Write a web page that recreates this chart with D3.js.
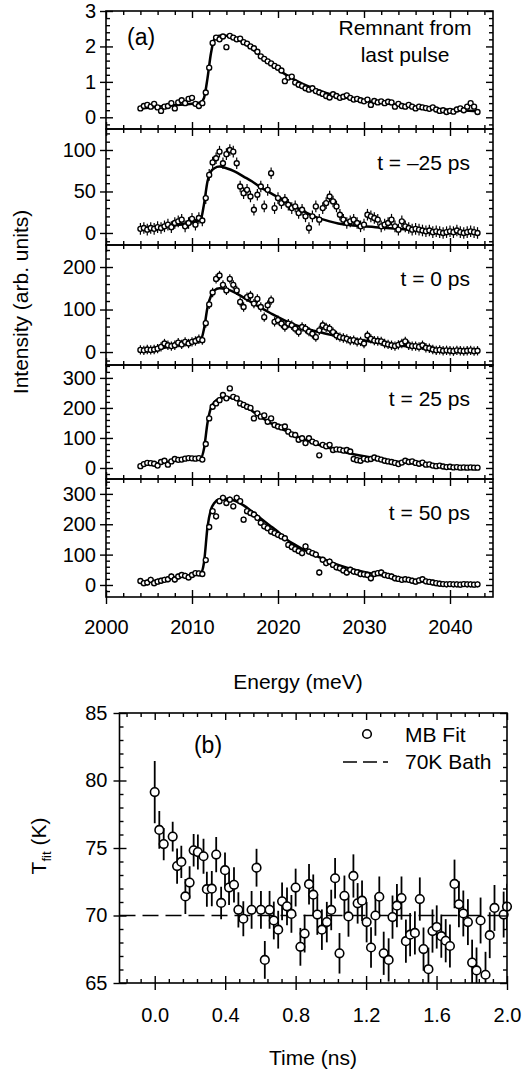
<!DOCTYPE html>
<html>
<head>
<meta charset="utf-8">
<script src="https://cdn.jsdelivr.net/npm/d3@7"></script>
<style>
  html, body { margin: 0; padding: 0; background: #fff; }
  svg { display: block; font-family: "Liberation Sans", Arial, Helvetica, sans-serif; }
</style>
</head>
<body>
<svg id="chart" width="527" height="1074"></svg>
<script>
// ---- panel (a): spectra, sampled every 0.4 meV from 2004.0 to 2043.2 ----
var energy = d3.range(99).map(function (k) { return +(2004 + 0.4 * k).toFixed(1); });

var remnant = [0.25, 0.32, 0.35, 0.30, 0.38, 0.28, 0.18, 0.30, 0.32, 0.40, 0.25, 0.42, 0.48, 0.40, 0.52, 0.55, 0.38, 0.32,
  0.40, 0.70, 1.40, 2.10, 2.25, 2.20, 2.28, 1.98, 2.30, 2.25, 2.20, 2.22,
  2.12, 2.08, 2.00, 1.95, 1.85, 1.72, 1.65, 1.58, 1.52, 1.45, 1.40, 1.32, 1.02, 1.12, 1.15, 0.98, 0.92, 0.88, 0.82, 0.78,
  0.82, 0.74, 0.70, 0.66, 0.60, 0.56, 0.65, 0.60, 0.55, 0.58, 0.62, 0.55, 0.50, 0.52, 0.48, 0.45, 0.50, 0.35, 0.46, 0.42,
  0.45, 0.40, 0.44, 0.42, 0.30, 0.38, 0.32, 0.30, 0.35, 0.30, 0.25, 0.30, 0.28, 0.26, 0.24, 0.28, 0.22, 0.18, 0.20, 0.15,
  0.18, 0.16, 0.22, 0.25, 0.20, 0.30, 0.40, 0.30, 0.15];
var tMinus25 = [5, 6, 4, 6, 5, 7, 6, 8, 10, 7, 12, 14, 16, 8, 12, 17, 10, 18,
  15, 42, 70, 85, 90, 98, 84, 95, 100, 98, 84, 56,
  48, 52, 44, 28, 46, 56, 32, 52, 72, 30, 42, 36, 40, 34, 30, 32, 24, 28, 20, 6,
  20, 32, 16, 30, 36, 44, 38, 32, 22, 16, 12, 14, 16, 12, 8, 10, 22, 20, 18, 16,
  8, 10, 12, 16, 8, 4, 14, 8, 6, 4, 5, 4, 3, 2, 3, 1, 2, 1, 0, 1, 2, 1, 3, 1, 0, 1, 2, 1, 0];
var t0 = [5, 4, 6, 5, 6, 8, 12, 20, 16, 14, 16, 22, 18, 24, 20, 24, 26, 30,
  28, 68, 112, 140, 172, 180, 158, 145, 172, 158, 145, 118,
  106, 129, 133, 114, 125, 106, 82, 110, 122, 71, 75, 67, 59, 67, 63, 55, 47, 59, 55, 48,
  43, 35, 51, 63, 58, 55, 47, 39, 35, 33, 31, 27, 28, 24, 25, 20, 39, 31, 27, 26,
  25, 20, 18, 16, 14, 17, 20, 25, 16, 14, 14, 12, 16, 10, 9, 6, 4, 5, 3, 4, 3, 2, 4, 3, 2, 3, 4, 2, 3];
var t25 = [6, 13, 17, 16, 14, 8, 20, 24, 11, 22, 30, 27, 28, 31, 33, 32, 31, 33,
  28, 80, 165, 204, 215, 226, 243, 232, 265, 237, 232, 215,
  210, 204, 200, 165, 182, 171, 175, 154, 165, 143, 138, 135, 138, 121, 112, 110, 94, 99, 83, 99,
  88, 83, 42, 77, 72, 77, 60, 62, 61, 58, 60, 55, 30, 26, 24, 31, 28, 30, 35, 31,
  28, 24, 22, 20, 17, 13, 18, 24, 20, 22, 17, 14, 18, 11, 12, 8, 6, 8, 5, 3, 4, 2, 3, 1, 2, 1, 2, 1, 1];
var t50 = [13, 6, 8, 17, 6, 11, 14, 17, 19, 28, 18, 28, 33, 30, 25, 33, 39, 38,
  36, 82, 191, 243, 226, 276, 287, 270, 281, 259, 287, 276,
  215, 243, 237, 232, 221, 205, 193, 187, 176, 171, 165, 160, 154, 132, 125, 118, 112, 105, 127, 110,
  105, 100, 41, 83, 72, 77, 66, 58, 55, 48, 41, 50, 44, 42, 36, 35, 33, 22, 36, 39,
  41, 33, 30, 28, 22, 20, 17, 19, 17, 14, 11, 15, 19, 12, 10, 8, 6, 4, 3, 2, 3, 2, 2, 1, 3, 2, 2, 1, 2];

// fitted curves (solid lines), on a coarser energy grid
var fitEnergy = [2004, 2006, 2008, 2010, 2011.0, 2011.4, 2011.8, 2012.2, 2012.6, 2013.2, 2014, 2015, 2016, 2017, 2018,
  2019, 2020, 2021, 2022, 2023, 2024, 2025, 2026, 2027, 2028, 2030, 2032, 2034, 2036, 2038, 2040, 2043.2];
var fitRemnant = [0.25, 0.30, 0.34, 0.38, 0.42, 0.55, 1.1, 1.8, 2.2, 2.3, 2.3, 2.22, 2.1, 1.93, 1.73,
  1.53, 1.35, 1.19, 1.05, 0.93, 0.83, 0.74, 0.66, 0.60, 0.55, 0.47, 0.41, 0.35, 0.30, 0.25, 0.21, 0.17];
var fitMinus25 = [4, 6, 9, 13, 16, 35, 62, 74, 78, 80, 78, 74, 68, 62, 55,
  49, 43, 37, 31, 26, 21, 17, 14, 11.5, 10, 8, 6.5, 5, 3.5, 2.5, 1.5, 1];
var fit0 = [4, 8, 15, 22, 27, 55, 105, 132, 145, 150, 148, 140, 128, 116, 104,
  93, 82, 72, 64, 57, 51, 46, 41, 37, 33, 27, 21, 16, 11, 7, 4, 2];
var fit25 = [10, 16, 24, 30, 32, 65, 150, 200, 220, 232, 236, 230, 212, 190, 170,
  152, 136, 122, 108, 96, 85, 75, 66, 58, 51, 39, 29, 21, 14, 8, 4, 2];
var fit50 = [10, 16, 25, 33, 38, 75, 190, 248, 270, 282, 284, 277, 262, 241, 219,
  197, 175, 150, 132, 116, 103, 89, 77, 66, 57, 43, 32, 22, 14, 8, 4, 2];

var panelLabels = ["", "t = \u201325 ps", "t = 0 ps", "t = 25 ps", "t = 50 ps"];
var panelErr = [0.07, 7, 11, 8, 10];
var panelYDomain = [[-0.33, 3], [-14.5, 125.3], [-30.5, 251.8], [-36.7, 343], [-39.6, 349]];
var panelYTicks = [[0, 1, 2, 3], [0, 50, 100], [0, 100, 200], [0, 100, 200, 300], [0, 100, 200, 300]];
var panelYMinor = [0.2, 10, 20, 20, 20];
var energyTicks = [2000, 2010, 2020, 2030, 2040];

// ---- panel (b): fitted temperature vs. time ----
var time = [0.000, 0.026, 0.051, 0.102, 0.127, 0.151, 0.174, 0.198, 0.221, 0.245,
  0.277, 0.296, 0.324, 0.349, 0.377, 0.399, 0.422, 0.450, 0.475, 0.503,
  0.550, 0.578, 0.603, 0.625, 0.652, 0.676, 0.701, 0.723, 0.751, 0.776,
  0.800, 0.827, 0.851, 0.876, 0.900, 0.923, 0.949, 0.977, 1.002, 1.024,
  1.049, 1.077, 1.100, 1.128, 1.152, 1.177, 1.203, 1.228, 1.253, 1.275,
  1.300, 1.328, 1.350, 1.375, 1.401, 1.426, 1.450, 1.477, 1.505, 1.526,
  1.554, 1.577, 1.601, 1.627, 1.652, 1.676, 1.702, 1.727, 1.752, 1.778,
  1.802, 1.827, 1.850, 1.878, 1.902, 1.929, 1.981, 2.000];
var tFit = [79.14, 76.34, 75.29, 75.85, 73.66, 73.97, 71.41, 72.44, 74.83, 74.70,
  74.39, 71.95, 71.99, 74.51, 70.93, 73.36, 72.07, 72.27, 70.42, 69.76,
  70.42, 73.54, 70.42, 66.71, 70.42, 69.63, 68.95, 71.05, 70.68, 70.12,
  72.07, 67.68, 68.66, 72.32, 71.54, 70.07, 68.95, 69.51, 70.41, 72.76,
  67.20, 71.46, 69.93, 72.93, 70.90, 71.10, 69.51, 67.63, 70.00, 71.39,
  67.20, 66.71, 69.88, 70.73, 71.29, 68.10, 68.58, 68.71, 71.22, 67.51,
  66.02, 68.85, 69.15, 68.47, 68.13, 67.74, 72.34, 70.83, 70.15, 69.51,
  66.51, 65.93, 69.63, 65.61, 68.54, 70.56, 70.07, 70.66];
var tFitErr = [2.3, 1.4, 1.2, 1.1, 1.3, 1.2, 1.3, 1.2, 1.2, 1.3,
  1.3, 1.3, 1.3, 1.3, 1.2, 1.3, 1.3, 1.3, 1.3, 1.3,
  1.4, 1.4, 1.4, 1.4, 1.4, 1.4, 1.4, 1.4, 1.4, 1.4,
  1.4, 1.4, 1.4, 1.5, 1.5, 1.5, 1.5, 1.5, 1.5, 1.5,
  1.5, 1.5, 1.5, 1.6, 1.5, 1.5, 1.5, 1.5, 1.5, 1.5,
  1.6, 1.6, 1.6, 1.6, 1.6, 1.6, 1.6, 1.6, 1.6, 1.6,
  1.6, 1.6, 1.6, 1.6, 1.6, 1.6, 1.8, 1.7, 1.7, 1.7,
  1.7, 1.7, 1.7, 1.7, 1.7, 1.7, 1.7, 1.7];
var bathTemp = 70;
var timeTicks = [0.0, 0.4, 0.8, 1.2, 1.6, 2.0];
var tempTicks = [65, 70, 75, 80, 85];

(function () {
  var svg = d3.select("#chart");
  var FONT = "Liberation Sans, Arial, Helvetica, sans-serif";
  var TICK_FS = 20, TITLE_FS = 21;

  function isMajor(v, majors) {
    return majors.some(function (m) { return Math.abs(m - v) < 1e-6; });
  }
  function minorValues(domain, step, majors) {
    var lo = Math.ceil(domain[0] / step - 1e-9) * step;
    return d3.range(lo, domain[1] + 1e-9, step)
      .map(function (v) { return +v.toFixed(6); })
      .filter(function (v) { return !isMajor(v, majors); });
  }
  // draw one axis and restyle it (no domain path; the frame is drawn separately)
  function axisAt(g, axis, tx, ty, withText) {
    var s = g.append("g").attr("transform", "translate(" + tx + "," + ty + ")").call(axis);
    s.attr("font-family", FONT).attr("font-size", TICK_FS);
    s.select(".domain").remove();
    s.selectAll("line").attr("stroke", "#000").attr("stroke-width", 1.4);
    if (!withText) s.selectAll("text").remove();
    else s.selectAll("text").attr("fill", "#000");
    return s;
  }

  // ================= panel (a) =================
  var left = 106, right = 493;
  var tops = [11, 129, 245, 365, 479], bottomA = 597;
  var x = d3.scaleLinear().domain([2000, 2045]).range([left, right]);
  var xMinor = minorValues([2000, 2045], 2, energyTicks);
  var series = [remnant, tMinus25, t0, t25, t50];
  var fits = [fitRemnant, fitMinus25, fit0, fit25, fit50];

  series.forEach(function (vals, i) {
    var top = tops[i], bot = i < 4 ? tops[i + 1] : bottomA;
    var y = d3.scaleLinear().domain(panelYDomain[i]).range([bot, top]);
    var g = svg.append("g");
    var clipId = "clipA" + i;
    svg.append("clipPath").attr("id", clipId).append("rect")
      .attr("x", left).attr("y", top).attr("width", right - left).attr("height", bot - top);
    var plot = g.append("g").attr("clip-path", "url(#" + clipId + ")");

    var line = d3.line().curve(d3.curveMonotoneX)
      .x(function (d, k) { return x(fitEnergy[k]); })
      .y(function (d) { return y(d); });
    plot.append("path").datum(fits[i])
      .attr("fill", "none").attr("stroke", "#000").attr("stroke-width", 2.5).attr("d", line);

    var err = panelErr[i];
    plot.selectAll(".eb").data(vals).enter().append("line")
      .attr("x1", function (d, k) { return x(energy[k]); })
      .attr("x2", function (d, k) { return x(energy[k]); })
      .attr("y1", function (d) { return y(d - err); })
      .attr("y2", function (d) { return y(d + err); })
      .attr("stroke", "#000").attr("stroke-width", 1.2);
    plot.selectAll(".pt").data(vals).enter().append("circle")
      .attr("cx", function (d, k) { return x(energy[k]); })
      .attr("cy", function (d) { return y(d); })
      .attr("r", 2.5).attr("fill", "#fff").attr("stroke", "#000").attr("stroke-width", 1.35);

    // frame
    g.append("rect").attr("x", left).attr("y", top).attr("width", right - left).attr("height", bot - top)
      .attr("fill", "none").attr("stroke", "#000").attr("stroke-width", 1.6);

    var maj = panelYTicks[i];
    var yMinor = minorValues(panelYDomain[i], panelYMinor[i], maj);
    // left axis: outward labelled major ticks + inward ticks
    axisAt(g, d3.axisLeft(y).tickValues(maj).tickSize(6).tickPadding(4).tickFormat(d3.format("d")), left, 0, true);
    axisAt(g, d3.axisRight(y).tickValues(maj).tickSize(7).tickFormat(""), left, 0, false);
    axisAt(g, d3.axisRight(y).tickValues(yMinor).tickSize(4).tickFormat(""), left, 0, false);
    // right axis: inward
    axisAt(g, d3.axisLeft(y).tickValues(maj).tickSize(7).tickFormat(""), right, 0, false);
    axisAt(g, d3.axisLeft(y).tickValues(yMinor).tickSize(4).tickFormat(""), right, 0, false);
    // top / bottom: inward
    axisAt(g, d3.axisBottom(x).tickValues(energyTicks).tickSize(7).tickFormat(""), 0, top, false);
    axisAt(g, d3.axisBottom(x).tickValues(xMinor).tickSize(4).tickFormat(""), 0, top, false);
    axisAt(g, d3.axisTop(x).tickValues(energyTicks).tickSize(7).tickFormat(""), 0, bot, false);
    axisAt(g, d3.axisTop(x).tickValues(xMinor).tickSize(4).tickFormat(""), 0, bot, false);
    if (i === 4) {
      axisAt(g, d3.axisBottom(x).tickValues(energyTicks).tickSize(7).tickPadding(16).tickFormat(d3.format("d")), 0, bot, true);
    }

    if (panelLabels[i]) {
      g.append("text").attr("x", 470).attr("y", top + 41).attr("text-anchor", "end")
        .attr("font-size", TITLE_FS).attr("fill", "#000").text(panelLabels[i]);
    }
  });

  svg.append("text").attr("x", 127).attr("y", 45).attr("font-size", 23).text("(a)");
  svg.append("text").attr("x", 405).attr("y", 35).attr("text-anchor", "middle").attr("font-size", TITLE_FS).text("Remnant from");
  svg.append("text").attr("x", 405).attr("y", 62).attr("text-anchor", "middle").attr("font-size", TITLE_FS).text("last pulse");
  svg.append("text").attr("x", 298).attr("y", 689).attr("text-anchor", "middle").attr("font-size", TITLE_FS).text("Energy (meV)");
  svg.append("text").attr("transform", "translate(28,302) rotate(-90)").attr("text-anchor", "middle")
    .attr("font-size", TITLE_FS).text("Intensity (arb. units)");

  // ================= panel (b) =================
  var bl = 119.5, br = 507, bt = 713, bb = 983;
  var bx = d3.scaleLinear().domain([-0.2, 2.0]).range([bl, br]);
  var by = d3.scaleLinear().domain([65, 85]).range([bb, bt]);
  var gb = svg.append("g");
  svg.append("clipPath").attr("id", "clipB").append("rect")
    .attr("x", bl).attr("y", bt).attr("width", br - bl).attr("height", bb - bt);
  var pb = gb.append("g").attr("clip-path", "url(#clipB)");

  pb.append("line").attr("x1", bx(-0.2)).attr("x2", bx(2.0))
    .attr("y1", by(bathTemp)).attr("y2", by(bathTemp))
    .attr("stroke", "#000").attr("stroke-width", 1.6).attr("stroke-dasharray", "16,7");
  pb.selectAll(".eb").data(tFit).enter().append("line")
    .attr("x1", function (d, k) { return bx(time[k]); })
    .attr("x2", function (d, k) { return bx(time[k]); })
    .attr("y1", function (d, k) { return by(d - tFitErr[k]); })
    .attr("y2", function (d, k) { return by(d + tFitErr[k]); })
    .attr("stroke", "#000").attr("stroke-width", 1.8);
  gb.selectAll(".pt").data(tFit).enter().append("circle")
    .attr("cx", function (d, k) { return bx(time[k]); })
    .attr("cy", function (d) { return by(d); })
    .attr("r", 4.3).attr("fill", "#fff").attr("stroke", "#000").attr("stroke-width", 1.6);

  gb.append("rect").attr("x", bl).attr("y", bt).attr("width", br - bl).attr("height", bb - bt)
    .attr("fill", "none").attr("stroke", "#000").attr("stroke-width", 1.6);

  var bxMinor = minorValues([-0.2, 2.0], 0.08, timeTicks);
  var byMinor = minorValues([65, 85], 1, tempTicks);
  axisAt(gb, d3.axisLeft(by).tickValues(tempTicks).tickSize(6).tickPadding(6), bl, 0, true);
  axisAt(gb, d3.axisRight(by).tickValues(tempTicks).tickSize(7).tickFormat(""), bl, 0, false);
  axisAt(gb, d3.axisRight(by).tickValues(byMinor).tickSize(4).tickFormat(""), bl, 0, false);
  axisAt(gb, d3.axisLeft(by).tickValues(tempTicks).tickSize(7).tickFormat(""), br, 0, false);
  axisAt(gb, d3.axisLeft(by).tickValues(byMinor).tickSize(4).tickFormat(""), br, 0, false);
  axisAt(gb, d3.axisBottom(bx).tickValues(timeTicks).tickSize(7).tickPadding(18).tickFormat(d3.format(".1f")), 0, bb, true);
  axisAt(gb, d3.axisTop(bx).tickValues(timeTicks).tickSize(7).tickFormat(""), 0, bb, false);
  axisAt(gb, d3.axisTop(bx).tickValues(bxMinor).tickSize(4).tickFormat(""), 0, bb, false);
  axisAt(gb, d3.axisBottom(bx).tickValues(timeTicks).tickSize(7).tickFormat(""), 0, bt, false);
  axisAt(gb, d3.axisBottom(bx).tickValues(bxMinor).tickSize(4).tickFormat(""), 0, bt, false);

  gb.append("text").attr("x", 208).attr("y", 753).attr("text-anchor", "middle").attr("font-size", 23).text("(b)");
  // legend
  gb.append("circle").attr("cx", 367).attr("cy", 734).attr("r", 4.3)
    .attr("fill", "#fff").attr("stroke", "#000").attr("stroke-width", 1.6);
  gb.append("text").attr("x", 405).attr("y", 742).attr("font-size", TITLE_FS).text("MB Fit");
  gb.append("line").attr("x1", 343).attr("x2", 388).attr("y1", 762).attr("y2", 762)
    .attr("stroke", "#000").attr("stroke-width", 1.6).attr("stroke-dasharray", "14,6");
  gb.append("text").attr("x", 405).attr("y", 769).attr("font-size", TITLE_FS).text("70K Bath");

  gb.append("text").attr("x", 313).attr("y", 1065).attr("text-anchor", "middle").attr("font-size", TITLE_FS).text("Time (ns)");
  var yl = gb.append("text").attr("transform", "translate(46,846) rotate(-90)").attr("text-anchor", "middle")
    .attr("font-size", TITLE_FS);
  yl.append("tspan").text("T");
  yl.append("tspan").attr("font-size", 13).attr("dy", 5).text("fit");
  yl.append("tspan").attr("dy", -5).text(" (K)");
})();
</script>
</body>
</html>
